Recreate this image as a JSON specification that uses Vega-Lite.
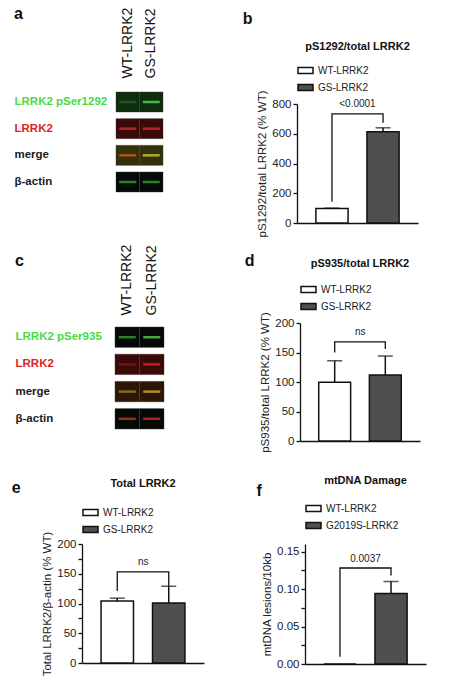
{
  "$schema": "https://vega.github.io/schema/vega-lite/v6.json",
  "background": "white",
  "padding": {"left": 11, "top": 6, "right": 4, "bottom": 2},
  "datasets": {
    "blots": [
      {"panel": "a", "row": "LRRK2 pSer1292", "lane": "WT-LRRK2", "stain": "green", "signal": "green faint"},
      {"panel": "a", "row": "LRRK2 pSer1292", "lane": "GS-LRRK2", "stain": "green", "signal": "green bright"},
      {"panel": "a", "row": "LRRK2", "lane": "WT-LRRK2", "stain": "red", "signal": "red"},
      {"panel": "a", "row": "LRRK2", "lane": "GS-LRRK2", "stain": "red", "signal": "red"},
      {"panel": "a", "row": "merge", "lane": "WT-LRRK2", "stain": "merge", "signal": "orange"},
      {"panel": "a", "row": "merge", "lane": "GS-LRRK2", "stain": "merge", "signal": "yellow"},
      {"panel": "a", "row": "β-actin", "lane": "WT-LRRK2", "stain": "actin", "signal": "green"},
      {"panel": "a", "row": "β-actin", "lane": "GS-LRRK2", "stain": "actin", "signal": "green"},
      {"panel": "c", "row": "LRRK2 pSer935", "lane": "WT-LRRK2", "stain": "actin", "signal": "green"},
      {"panel": "c", "row": "LRRK2 pSer935", "lane": "GS-LRRK2", "stain": "actin", "signal": "green bright"},
      {"panel": "c", "row": "LRRK2", "lane": "WT-LRRK2", "stain": "red", "signal": "red faint"},
      {"panel": "c", "row": "LRRK2", "lane": "GS-LRRK2", "stain": "red", "signal": "red"},
      {"panel": "c", "row": "merge", "lane": "WT-LRRK2", "stain": "merge brown", "signal": "yellow faint"},
      {"panel": "c", "row": "merge", "lane": "GS-LRRK2", "stain": "merge brown", "signal": "yellow"},
      {"panel": "c", "row": "β-actin", "lane": "WT-LRRK2", "stain": "actin", "signal": "red"},
      {"panel": "c", "row": "β-actin", "lane": "GS-LRRK2", "stain": "actin", "signal": "red"}
    ],
    "bars": [
      {"panel": "b", "group": "WT-LRRK2", "value": 98, "upper": 100},
      {"panel": "b", "group": "GS-LRRK2", "value": 614, "upper": 640},
      {"panel": "d", "group": "WT-LRRK2", "value": 99.5, "upper": 136},
      {"panel": "d", "group": "GS-LRRK2", "value": 112, "upper": 144},
      {"panel": "e", "group": "WT-LRRK2", "value": 104, "upper": 109},
      {"panel": "e", "group": "GS-LRRK2", "value": 101, "upper": 129},
      {"panel": "f", "group": "WT-LRRK2", "value": 0, "upper": 0},
      {"panel": "f", "group": "G2019S-LRRK2", "value": 0.094, "upper": 0.11}
    ],
    "brackets": [
      {"panel": "b", "group": "WT-LRRK2", "y": 143, "step": 1},
      {"panel": "b", "group": "WT-LRRK2", "y": 733, "step": 2},
      {"panel": "b", "group": "GS-LRRK2", "y": 733, "step": 3},
      {"panel": "b", "group": "GS-LRRK2", "y": 674, "step": 4},
      {"panel": "d", "group": "WT-LRRK2", "y": 150, "step": 1},
      {"panel": "d", "group": "WT-LRRK2", "y": 168, "step": 2},
      {"panel": "d", "group": "GS-LRRK2", "y": 168, "step": 3},
      {"panel": "d", "group": "GS-LRRK2", "y": 156, "step": 4},
      {"panel": "e", "group": "WT-LRRK2", "y": 121, "step": 1},
      {"panel": "e", "group": "WT-LRRK2", "y": 153, "step": 2},
      {"panel": "e", "group": "GS-LRRK2", "y": 153, "step": 3},
      {"panel": "e", "group": "GS-LRRK2", "y": 129, "step": 4},
      {"panel": "f", "group": "WT-LRRK2", "y": 0.0096, "step": 1},
      {"panel": "f", "group": "WT-LRRK2", "y": 0.128, "step": 2},
      {"panel": "f", "group": "G2019S-LRRK2", "y": 0.128, "step": 3},
      {"panel": "f", "group": "G2019S-LRRK2", "y": 0.118, "step": 4}
    ],
    "pvalues": [
      {"panel": "b", "group": "WT-LRRK2", "y": 800, "label": "<0.0001"},
      {"panel": "d", "group": "WT-LRRK2", "y": 184, "label": "ns"},
      {"panel": "e", "group": "WT-LRRK2", "y": 170, "label": "ns"},
      {"panel": "f", "group": "WT-LRRK2", "y": 0.14, "label": "0.0037"}
    ]
  },
  "resolve": {"scale": {"color": "independent"}, "legend": {"color": "independent"}},
  "spacing": 6,
  "vconcat": [
    {
      "spacing": 78,
      "resolve": {"scale": {"color": "independent"}, "legend": {"color": "independent"}},
      "hconcat": [
        {
          "title": {"text": "a", "anchor": "start", "frame": "bounds", "offset": -15},
          "width": 81,
          "height": 100,
          "data": {"name": "blots"},
          "transform": [{"filter": "datum.panel == 'a'"}],
          "encoding": {
            "x": {"field": "lane", "type": "nominal", "sort": ["WT-LRRK2", "GS-LRRK2"], "scale": {"range": [34, 81], "paddingInner": 0, "paddingOuter": 0},
              "axis": {"orient": "top", "title": null, "domain": false, "ticks": false, "labelAngle": -90, "labelFontSize": 14, "labelPadding": 14, "labelColor": "#111"}},
            "y": {"field": "row", "type": "nominal", "sort": null, "scale": {"paddingInner": 0.25, "paddingOuter": 0},
              "axis": {"title": null, "domain": false, "ticks": false, "labelAlign": "left", "labelPadding": 68, "labelFontSize": 11.5, "labelFontWeight": "bold", "labelLimit": 200,
                "labelColor": {"expr": "indexof(datum.value, 'pSer') >= 0 ? '#46dc46' : datum.value == 'LRRK2' ? '#e01e1e' : '#1a1a1a'"}}}
          },
          "layer": [
            {"mark": {"type": "rect", "stroke": "#333", "strokeWidth": 0.4},
              "encoding": {"color": {"field": "stain", "type": "nominal", "legend": null,
                "scale": {"domain": ["green", "red", "merge", "merge brown", "actin"], "range": ["#0e2c0e", "#3c0909", "#33300a", "#2e1606", "#060a06"]}}}},
            {"mark": {"type": "tick", "orient": "horizontal", "size": 17, "thickness": 2.5},
              "encoding": {"color": {"field": "signal", "type": "nominal", "legend": null,
                "scale": {"domain": ["green faint", "green", "green bright", "red faint", "red", "orange", "yellow", "yellow faint"], "range": ["#2a6a28", "#34b834", "#66ee5e", "#8a1c1c", "#e6342e", "#e8602a", "#e6e040", "#a89034"]}}}}
          ],
          "resolve": {"scale": {"color": "independent"}}
        },
        {
          "title": {"text": "b", "anchor": "start", "frame": "bounds", "dx": -14, "offset": 14},
          "resolve": {"scale": {"color": "independent"}, "legend": {"color": "independent"}},
          "vconcat": [
            {
              "title": {"text": "pS1292/total LRRK2", "fontSize": 11, "anchor": "middle", "frame": "group", "offset": 10},
              "width": 121,
              "height": 131,
              "layer": [
                {"data": {"name": "bars"}, "transform": [{"filter": "datum.panel == 'b'"}],
                  "mark": {"type": "bar", "stroke": "#111", "strokeWidth": 1.5},
                  "encoding": {
                    "x": {"field": "group", "type": "nominal", "sort": ["WT-LRRK2", "GS-LRRK2"], "scale": {"paddingInner": 0.37, "paddingOuter": 0.37}, "axis": {"title": null, "labels": false, "ticks": false}},
                    "y": {"field": "value", "type": "quantitative", "scale": {"domain": [0, 800], "range": [131, 12]}, "axis": {"values": [0, 200, 400, 600, 800], "title": "pS1292/total LRRK2 (% WT)"}},
                    "color": {"field": "group", "type": "nominal", "scale": {"domain": ["WT-LRRK2", "GS-LRRK2"], "range": ["white", "#4f4f4f"]}, "legend": {"title": null, "offset": -2}}
                  }},
                {"data": {"name": "bars"}, "transform": [{"filter": "datum.panel == 'b'"}],
                  "mark": {"type": "rule", "color": "#111", "strokeWidth": 1.5},
                  "encoding": {
                    "x": {"field": "group", "type": "nominal", "sort": ["WT-LRRK2", "GS-LRRK2"]},
                    "y": {"field": "value", "type": "quantitative", "axis": {"values": [0, 200, 400, 600, 800], "title": "pS1292/total LRRK2 (% WT)"}}, "y2": {"field": "upper"}}},
                {"data": {"name": "bars"}, "transform": [{"filter": "datum.panel == 'b'"}],
                  "mark": {"type": "tick", "orient": "horizontal", "color": "#111", "size": 15, "thickness": 1.5},
                  "encoding": {
                    "x": {"field": "group", "type": "nominal", "sort": ["WT-LRRK2", "GS-LRRK2"]},
                    "y": {"field": "upper", "type": "quantitative", "axis": {"values": [0, 200, 400, 600, 800], "title": "pS1292/total LRRK2 (% WT)"}}}},
                {"mark": {"type": "rule", "strokeDash": [4, 3], "color": "#111", "strokeWidth": 1.2},
                  "encoding": {"y": {"datum": 100, "type": "quantitative", "axis": {"values": [0, 200, 400, 600, 800], "title": "pS1292/total LRRK2 (% WT)"}}}},
                {"data": {"name": "brackets"}, "transform": [{"filter": "datum.panel == 'b'"}],
                  "mark": {"type": "line", "color": "#111", "strokeWidth": 1.3},
                  "encoding": {
                    "x": {"field": "group", "type": "nominal", "sort": ["WT-LRRK2", "GS-LRRK2"]},
                    "y": {"field": "y", "type": "quantitative", "axis": {"values": [0, 200, 400, 600, 800], "title": "pS1292/total LRRK2 (% WT)"}}, "order": {"field": "step"}}},
                {"data": {"name": "pvalues"}, "transform": [{"filter": "datum.panel == 'b'"}],
                  "mark": {"type": "text", "dx": 25.5, "fontSize": 10, "color": "#222"},
                  "encoding": {
                    "x": {"field": "group", "type": "nominal", "sort": ["WT-LRRK2", "GS-LRRK2"]},
                    "y": {"field": "y", "type": "quantitative", "axis": {"values": [0, 200, 400, 600, 800], "title": "pS1292/total LRRK2 (% WT)"}}, "text": {"field": "label"}}}
              ]
            }
          ]
        }
      ]
    },
    {
      "spacing": 22,
      "resolve": {"scale": {"color": "independent"}, "legend": {"color": "independent"}},
      "vconcat": [
        {
          "spacing": 79,
          "resolve": {"scale": {"color": "independent"}, "legend": {"color": "independent"}},
          "hconcat": [
            {
              "title": {"text": "c", "anchor": "start", "frame": "bounds", "offset": -25},
              "width": 82,
              "height": 106,
              "data": {"name": "blots"},
              "transform": [{"filter": "datum.panel == 'c'"}],
              "encoding": {
                "x": {"field": "lane", "type": "nominal", "sort": ["WT-LRRK2", "GS-LRRK2"], "scale": {"range": [33, 82], "paddingInner": 0, "paddingOuter": 0},
                  "axis": {"orient": "top", "title": null, "domain": false, "ticks": false, "labelAngle": -90, "labelFontSize": 14, "labelPadding": 8, "labelColor": "#111"}},
                "y": {"field": "row", "type": "nominal", "sort": null, "scale": {"range": [4, 106], "paddingInner": 0.25, "paddingOuter": 0},
                  "axis": {"title": null, "domain": false, "ticks": false, "labelAlign": "left", "labelPadding": 67, "labelFontSize": 11.5, "labelFontWeight": "bold", "labelLimit": 200,
                    "labelColor": {"expr": "indexof(datum.value, 'pSer') >= 0 ? '#46dc46' : datum.value == 'LRRK2' ? '#e01e1e' : '#1a1a1a'"}}}
              },
              "layer": [
                {"mark": {"type": "rect", "stroke": "#333", "strokeWidth": 0.4},
                  "encoding": {"color": {"field": "stain", "type": "nominal", "legend": null,
                    "scale": {"domain": ["green", "red", "merge", "merge brown", "actin"], "range": ["#0e2c0e", "#3c0909", "#33300a", "#2e1606", "#060a06"]}}}},
                {"mark": {"type": "tick", "orient": "horizontal", "size": 17, "thickness": 2.5},
                  "encoding": {"color": {"field": "signal", "type": "nominal", "legend": null,
                    "scale": {"domain": ["green faint", "green", "green bright", "red faint", "red", "orange", "yellow", "yellow faint"], "range": ["#2a6a28", "#34b834", "#66ee5e", "#8a1c1c", "#e6342e", "#e8602a", "#e6c040", "#a89034"]}}}}
              ],
              "resolve": {"scale": {"color": "independent"}}
            },
            {
              "title": {"text": "d", "anchor": "start", "frame": "bounds", "dx": -15, "offset": -11},
              "resolve": {"scale": {"color": "independent"}, "legend": {"color": "independent"}},
              "vconcat": [
                {
                  "title": {"text": "pS935/total LRRK2", "fontSize": 11, "anchor": "middle", "frame": "group", "offset": 12},
                  "width": 120,
                  "height": 118,
                  "layer": [
                    {"data": {"name": "bars"}, "transform": [{"filter": "datum.panel == 'd'"}],
                      "mark": {"type": "bar", "stroke": "#111", "strokeWidth": 1.5},
                      "encoding": {
                        "x": {"field": "group", "type": "nominal", "sort": ["WT-LRRK2", "GS-LRRK2"], "scale": {"paddingInner": 0.37, "paddingOuter": 0.37}, "axis": {"title": null, "labels": false, "ticks": false}},
                        "y": {"field": "value", "type": "quantitative", "scale": {"domain": [0, 200]}, "axis": {"values": [0, 50, 100, 150, 200], "title": "pS935/total LRRK2 (% WT)"}},
                        "color": {"field": "group", "type": "nominal", "scale": {"domain": ["WT-LRRK2", "GS-LRRK2"], "range": ["white", "#4f4f4f"]}, "legend": {"title": null, "offset": 10}}
                      }},
                    {"data": {"name": "bars"}, "transform": [{"filter": "datum.panel == 'd'"}],
                      "mark": {"type": "rule", "color": "#111", "strokeWidth": 1.5},
                      "encoding": {
                        "x": {"field": "group", "type": "nominal", "sort": ["WT-LRRK2", "GS-LRRK2"]},
                        "y": {"field": "value", "type": "quantitative", "axis": {"values": [0, 50, 100, 150, 200], "title": "pS935/total LRRK2 (% WT)"}}, "y2": {"field": "upper"}}},
                    {"data": {"name": "bars"}, "transform": [{"filter": "datum.panel == 'd'"}],
                      "mark": {"type": "tick", "orient": "horizontal", "color": "#111", "size": 15, "thickness": 1.5},
                      "encoding": {
                        "x": {"field": "group", "type": "nominal", "sort": ["WT-LRRK2", "GS-LRRK2"]},
                        "y": {"field": "upper", "type": "quantitative", "axis": {"values": [0, 50, 100, 150, 200], "title": "pS935/total LRRK2 (% WT)"}}}},
                    {"mark": {"type": "rule", "strokeDash": [4, 3], "color": "#111", "strokeWidth": 1.2},
                      "encoding": {"y": {"datum": 100, "type": "quantitative", "axis": {"values": [0, 50, 100, 150, 200], "title": "pS935/total LRRK2 (% WT)"}}}},
                    {"data": {"name": "brackets"}, "transform": [{"filter": "datum.panel == 'd'"}],
                      "mark": {"type": "line", "color": "#111", "strokeWidth": 1.3},
                      "encoding": {
                        "x": {"field": "group", "type": "nominal", "sort": ["WT-LRRK2", "GS-LRRK2"]},
                        "y": {"field": "y", "type": "quantitative", "axis": {"values": [0, 50, 100, 150, 200], "title": "pS935/total LRRK2 (% WT)"}}, "order": {"field": "step"}}},
                    {"data": {"name": "pvalues"}, "transform": [{"filter": "datum.panel == 'd'"}],
                      "mark": {"type": "text", "dx": 25.5, "fontSize": 10, "color": "#222"},
                      "encoding": {
                        "x": {"field": "group", "type": "nominal", "sort": ["WT-LRRK2", "GS-LRRK2"]},
                        "y": {"field": "y", "type": "quantitative", "axis": {"values": [0, 50, 100, 150, 200], "title": "pS935/total LRRK2 (% WT)"}}, "text": {"field": "label"}}}
                  ]
                }
              ]
            }
          ]
        },
        {
          "spacing": 52,
          "resolve": {"scale": {"color": "independent"}, "legend": {"color": "independent"}},
          "hconcat": [
            {
              "title": {"text": "e", "anchor": "start", "frame": "bounds", "dx": -30, "offset": -18},
              "resolve": {"scale": {"color": "independent"}, "legend": {"color": "independent"}},
              "vconcat": [
                {
                  "title": {"text": "Total LRRK2", "fontSize": 11, "anchor": "middle", "frame": "group", "offset": 15},
                  "width": 122,
                  "height": 119,
                  "layer": [
                    {"data": {"name": "bars"}, "transform": [{"filter": "datum.panel == 'e'"}],
                      "mark": {"type": "bar", "stroke": "#111", "strokeWidth": 1.5},
                      "encoding": {
                        "x": {"field": "group", "type": "nominal", "sort": ["WT-LRRK2", "GS-LRRK2"], "scale": {"paddingInner": 0.37, "paddingOuter": 0.37}, "axis": {"title": null, "labels": false, "ticks": false}},
                        "y": {"field": "value", "type": "quantitative", "scale": {"domain": [0, 200]},
                          "axis": {"values": [0, 25, 50, 75, 100, 125, 150, 175, 200], "labelExpr": "datum.value % 50 == 0 ? datum.label : ''", "title": "Total LRRK2/β-actin (% WT)"}},
                        "color": {"field": "group", "type": "nominal", "scale": {"domain": ["WT-LRRK2", "GS-LRRK2"], "range": ["white", "#4f4f4f"]}, "legend": {"title": null, "offset": 8}}
                      }},
                    {"data": {"name": "bars"}, "transform": [{"filter": "datum.panel == 'e'"}],
                      "mark": {"type": "rule", "color": "#111", "strokeWidth": 1.5},
                      "encoding": {
                        "x": {"field": "group", "type": "nominal", "sort": ["WT-LRRK2", "GS-LRRK2"]},
                        "y": {"field": "value", "type": "quantitative", "axis": {"values": [0, 25, 50, 75, 100, 125, 150, 175, 200], "labelExpr": "datum.value % 50 == 0 ? datum.label : ''", "title": "Total LRRK2/β-actin (% WT)"}}, "y2": {"field": "upper"}}},
                    {"data": {"name": "bars"}, "transform": [{"filter": "datum.panel == 'e'"}],
                      "mark": {"type": "tick", "orient": "horizontal", "color": "#111", "size": 15, "thickness": 1.5},
                      "encoding": {
                        "x": {"field": "group", "type": "nominal", "sort": ["WT-LRRK2", "GS-LRRK2"]},
                        "y": {"field": "upper", "type": "quantitative", "axis": {"values": [0, 25, 50, 75, 100, 125, 150, 175, 200], "labelExpr": "datum.value % 50 == 0 ? datum.label : ''", "title": "Total LRRK2/β-actin (% WT)"}}}},
                    {"mark": {"type": "rule", "strokeDash": [4, 3], "color": "#111", "strokeWidth": 1.2},
                      "encoding": {"y": {"datum": 100, "type": "quantitative", "axis": {"values": [0, 25, 50, 75, 100, 125, 150, 175, 200], "labelExpr": "datum.value % 50 == 0 ? datum.label : ''", "title": "Total LRRK2/β-actin (% WT)"}}}},
                    {"data": {"name": "brackets"}, "transform": [{"filter": "datum.panel == 'e'"}],
                      "mark": {"type": "line", "color": "#111", "strokeWidth": 1.3},
                      "encoding": {
                        "x": {"field": "group", "type": "nominal", "sort": ["WT-LRRK2", "GS-LRRK2"]},
                        "y": {"field": "y", "type": "quantitative", "axis": {"values": [0, 25, 50, 75, 100, 125, 150, 175, 200], "labelExpr": "datum.value % 50 == 0 ? datum.label : ''", "title": "Total LRRK2/β-actin (% WT)"}}, "order": {"field": "step"}}},
                    {"data": {"name": "pvalues"}, "transform": [{"filter": "datum.panel == 'e'"}],
                      "mark": {"type": "text", "dx": 26, "fontSize": 10, "color": "#222"},
                      "encoding": {
                        "x": {"field": "group", "type": "nominal", "sort": ["WT-LRRK2", "GS-LRRK2"]},
                        "y": {"field": "y", "type": "quantitative", "axis": {"values": [0, 25, 50, 75, 100, 125, 150, 175, 200], "labelExpr": "datum.value % 50 == 0 ? datum.label : ''", "title": "Total LRRK2/β-actin (% WT)"}}, "text": {"field": "label"}}}
                  ]
                }
              ]
            },
            {
              "title": {"text": "f", "anchor": "start", "frame": "bounds", "dx": -5, "offset": -24},
              "resolve": {"scale": {"color": "independent"}, "legend": {"color": "independent"}},
              "vconcat": [
                {
                  "title": {"text": "mtDNA Damage", "fontSize": 11, "anchor": "middle", "frame": "group", "offset": 14},
                  "width": 121,
                  "height": 120,
                  "layer": [
                    {"data": {"name": "bars"}, "transform": [{"filter": "datum.panel == 'f'"}],
                      "mark": {"type": "bar", "stroke": "#111", "strokeWidth": 1.5},
                      "encoding": {
                        "x": {"field": "group", "type": "nominal", "sort": ["WT-LRRK2", "G2019S-LRRK2"], "scale": {"paddingInner": 0.37, "paddingOuter": 0.37}, "axis": {"title": null, "labels": false, "ticks": false}},
                        "y": {"field": "value", "type": "quantitative", "scale": {"domain": [0, 0.15]},
                          "axis": {"values": [0, 0.025, 0.05, 0.075, 0.1, 0.125, 0.15], "labelExpr": "abs(datum.value * 20 - round(datum.value * 20)) < 0.001 ? format(datum.value, '.2f') : ''", "title": "mtDNA lesions/10kb"}},
                        "color": {"field": "group", "type": "nominal", "scale": {"domain": ["WT-LRRK2", "G2019S-LRRK2"], "range": ["white", "#4f4f4f"]}, "legend": {"title": null, "offset": 12}}
                      }},
                    {"data": {"name": "bars"}, "transform": [{"filter": "datum.panel == 'f' && datum.upper > datum.value"}],
                      "mark": {"type": "rule", "color": "#111", "strokeWidth": 1.5},
                      "encoding": {
                        "x": {"field": "group", "type": "nominal", "sort": ["WT-LRRK2", "G2019S-LRRK2"]},
                        "y": {"field": "value", "type": "quantitative", "axis": {"values": [0, 0.025, 0.05, 0.075, 0.1, 0.125, 0.15], "labelExpr": "abs(datum.value * 20 - round(datum.value * 20)) < 0.001 ? format(datum.value, '.2f') : ''", "title": "mtDNA lesions/10kb"}}, "y2": {"field": "upper"}}},
                    {"data": {"name": "bars"}, "transform": [{"filter": "datum.panel == 'f' && datum.upper > datum.value"}],
                      "mark": {"type": "tick", "orient": "horizontal", "color": "#111", "size": 15, "thickness": 1.5},
                      "encoding": {
                        "x": {"field": "group", "type": "nominal", "sort": ["WT-LRRK2", "G2019S-LRRK2"]},
                        "y": {"field": "upper", "type": "quantitative", "axis": {"values": [0, 0.025, 0.05, 0.075, 0.1, 0.125, 0.15], "labelExpr": "abs(datum.value * 20 - round(datum.value * 20)) < 0.001 ? format(datum.value, '.2f') : ''", "title": "mtDNA lesions/10kb"}}}},
                    {"data": {"name": "brackets"}, "transform": [{"filter": "datum.panel == 'f'"}],
                      "mark": {"type": "line", "color": "#111", "strokeWidth": 1.3},
                      "encoding": {
                        "x": {"field": "group", "type": "nominal", "sort": ["WT-LRRK2", "G2019S-LRRK2"]},
                        "y": {"field": "y", "type": "quantitative", "axis": {"values": [0, 0.025, 0.05, 0.075, 0.1, 0.125, 0.15], "labelExpr": "abs(datum.value * 20 - round(datum.value * 20)) < 0.001 ? format(datum.value, '.2f') : ''", "title": "mtDNA lesions/10kb"}}, "order": {"field": "step"}}},
                    {"data": {"name": "pvalues"}, "transform": [{"filter": "datum.panel == 'f'"}],
                      "mark": {"type": "text", "dx": 25.5, "fontSize": 10, "color": "#222"},
                      "encoding": {
                        "x": {"field": "group", "type": "nominal", "sort": ["WT-LRRK2", "G2019S-LRRK2"]},
                        "y": {"field": "y", "type": "quantitative", "axis": {"values": [0, 0.025, 0.05, 0.075, 0.1, 0.125, 0.15], "labelExpr": "abs(datum.value * 20 - round(datum.value * 20)) < 0.001 ? format(datum.value, '.2f') : ''", "title": "mtDNA lesions/10kb"}}, "text": {"field": "label"}}}
                  ]
                }
              ]
            }
          ]
        }
      ]
    }
  ],
  "config": {
    "font": "Liberation Sans",
    "view": {"stroke": null},
    "axis": {
      "labelFont": "Liberation Sans",
      "titleFont": "Liberation Sans",
      "labelFontSize": 11.5,
      "labelColor": "#222",
      "labelOverlap": false,
      "titleFontSize": 11.5,
      "titleFontWeight": "normal",
      "titleColor": "#222",
      "domainColor": "#111",
      "domainWidth": 1.3,
      "tickColor": "#111",
      "tickWidth": 1.3,
      "tickSize": 4,
      "labelPadding": 2,
      "titlePadding": 4,
      "grid": false
    },
    "legend": {
      "orient": "top",
      "direction": "vertical",
      "symbolType": "M-1,-0.4H1V0.4H-1Z",
      "symbolSize": 225,
      "symbolStrokeColor": "#111",
      "symbolStrokeWidth": 1.5,
      "labelFont": "Liberation Sans",
      "labelFontSize": 10,
      "labelColor": "#222",
      "rowPadding": 2,
      "offset": 8,
      "padding": 0
    },
    "title": {
      "font": "Liberation Sans",
      "fontSize": 16,
      "fontWeight": "bold",
      "color": "#111"
    }
  }
}
